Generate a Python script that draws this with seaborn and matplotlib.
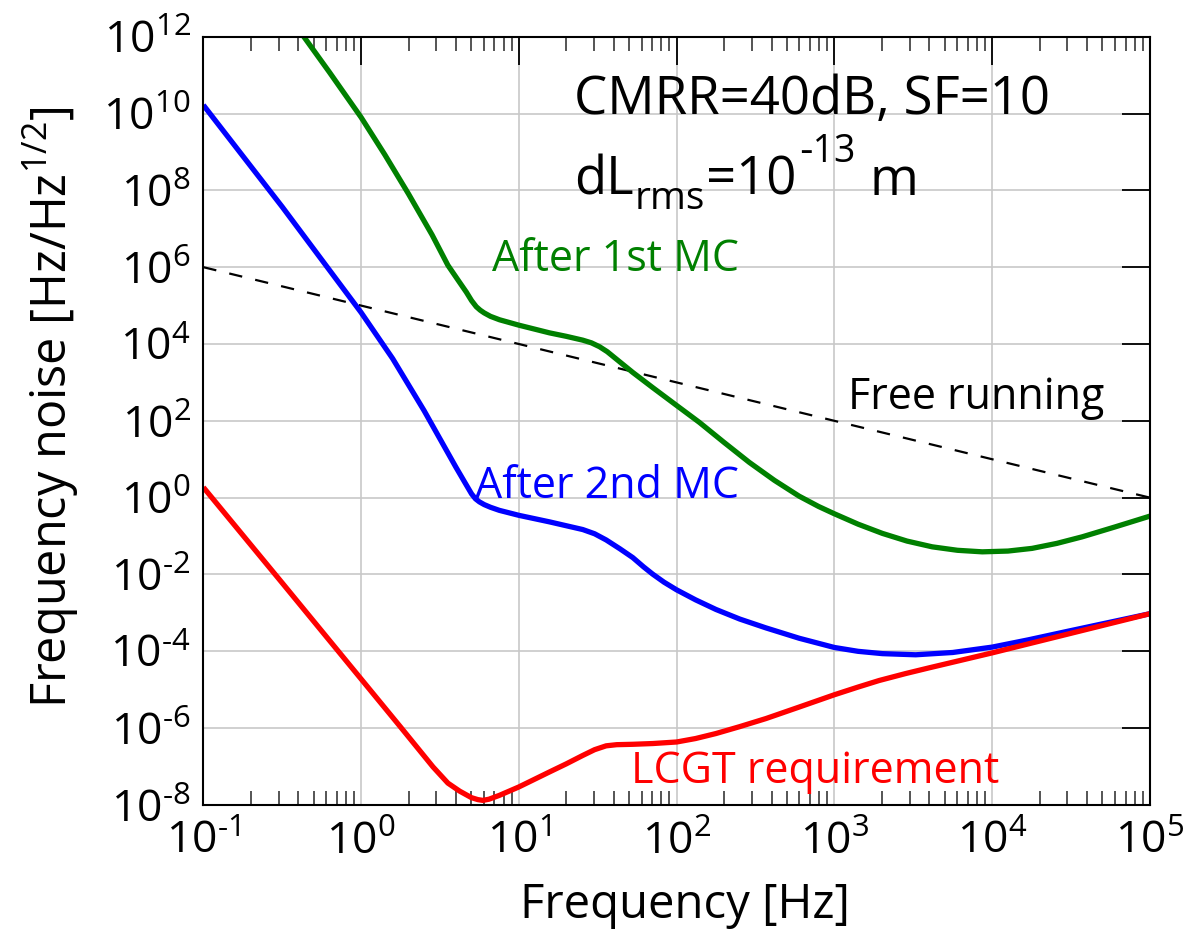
import numpy as np
import pandas as pd
import matplotlib
matplotlib.use("Agg")
import matplotlib.pyplot as plt
import matplotlib.ticker as mticker
import matplotlib.transforms as mtransforms
import seaborn as sns

# ---------------- data (log10 of frequency [Hz] and of noise [Hz/Hz^1/2]) ----------------
green_logf = [-0.40, -0.2, 0.0, 0.15, 0.3, 0.45, 0.55, 0.62, 0.667, 0.70, 0.73, 0.755,
              0.78, 0.82, 0.878, 1.0, 1.194, 1.30, 1.405, 1.46, 1.511, 1.56, 1.62, 1.68,
              1.722, 1.85, 2.0, 2.144, 2.3, 2.46, 2.62, 2.776, 2.9, 3.0, 3.15, 3.304, 3.46,
              3.62, 3.78, 3.937, 4.1, 4.253, 4.41, 4.57, 4.78, 5.0]
green_logN = [12.21, 11.07, 9.90, 8.93, 7.91, 6.84, 6.05, 5.63, 5.35, 5.13, 4.97, 4.88,
              4.81, 4.72, 4.63, 4.49, 4.29, 4.20, 4.10, 4.03, 3.93, 3.80, 3.60, 3.40,
              3.26, 2.86, 2.40, 1.96, 1.44, 0.92, 0.45, 0.04, -0.23, -0.42, -0.69, -0.93, -1.13,
              -1.28, -1.37, -1.41, -1.39, -1.32, -1.19, -1.02, -0.76, -0.48]

blue_logf = [-1.0, -0.5, 0.0, 0.2, 0.4, 0.6, 0.667, 0.70, 0.725, 0.75, 0.78, 0.82, 0.876,
             1.0, 1.194, 1.405, 1.48, 1.553, 1.64, 1.722, 1.79, 1.848, 1.92, 2.0, 2.12,
             2.249, 2.4, 2.566, 2.777, 3.0, 3.15, 3.304, 3.515, 3.75, 4.0, 4.23, 4.465, 5.0]
blue_logN = [10.22, 7.57, 4.82, 3.62, 2.26, 0.80, 0.33, 0.10, -0.03, -0.11, -0.18, -0.25, -0.33,
             -0.46, -0.63, -0.83, -0.94, -1.10, -1.33, -1.56, -1.80, -1.99, -2.20, -2.40, -2.66,
             -2.91, -3.16, -3.39, -3.66, -3.90, -4.00, -4.06, -4.09, -4.03, -3.89, -3.70, -3.49,
             -3.02]

red_logf = [-1.0, -0.5, 0.0, 0.25, 0.456, 0.55, 0.625, 0.70, 0.74, 0.772, 0.81, 0.876, 1.0,
            1.194, 1.3, 1.405, 1.48, 1.553, 1.62, 1.722, 1.85, 2.0, 2.12, 2.249, 2.4, 2.566,
            2.777, 3.0, 3.15, 3.283, 3.45, 3.6, 4.0, 4.5, 5.0]
red_logN = [0.27, -2.22, -4.72, -5.97, -7.01, -7.43, -7.64, -7.81, -7.86, -7.88, -7.85, -7.75,
            -7.53, -7.14, -6.93, -6.71, -6.56, -6.46, -6.43, -6.42, -6.40, -6.36, -6.27, -6.14,
            -5.96, -5.75, -5.45, -5.13, -4.93, -4.76, -4.58, -4.43, -4.04, -3.53, -3.02]

free_f = [0.1, 1e5]
free_N = [1e6, 1.0]

curve_names = ["After 1st MC", "After 2nd MC", "LCGT requirement"]
curve_colors = ["#008000", "#0000ff", "#ff0000"]

xtick_exp = [-1, 0, 1, 2, 3, 4, 5]
ytick_exp = [-8, -6, -4, -2, 0, 2, 4, 6, 8, 10, 12]

HY = "\u2010"  # short hyphen used in the exponents


def pow_label(e):
    s = str(e).replace("-", HY)
    return r"$10^{%s}$" % s


# ---------------- build table ----------------
frames = []
for name, lf, ln in zip(curve_names, [green_logf, blue_logf, red_logf],
                        [green_logN, blue_logN, red_logN]):
    frames.append(pd.DataFrame({"freq": np.power(10.0, lf),
                                "noise": np.power(10.0, ln),
                                "curve": name}))
df = pd.concat(frames, ignore_index=True)
free_df = pd.DataFrame({"freq": free_f, "noise": free_N})

# ---------------- style ----------------
sns.set_theme(style="white")
plt.rcParams["font.family"] = ["Open Sans", "DejaVu Sans"]
plt.rcParams["mathtext.fontset"] = "custom"
plt.rcParams["mathtext.rm"] = "Open Sans"
plt.rcParams["mathtext.default"] = "regular"

fig = plt.figure(figsize=(11.87, 9.38), dpi=100)
ax = fig.add_axes([0.1713, 0.1418, 0.9688 - 0.1713, 0.9609 - 0.1418])
ax.set_xscale("log")
ax.set_yscale("log")

sns.lineplot(data=free_df, x="freq", y="noise", ax=ax, color="black", lw=1.6,
             sort=False, estimator=None, legend=False)
ax.lines[-1].set_dashes((6, 6))
sns.lineplot(data=df, x="freq", y="noise", hue="curve", hue_order=curve_names,
             palette=curve_colors, ax=ax, lw=3.8, sort=False, estimator=None,
             legend=False)
for ln in ax.lines[1:]:
    ln.set_solid_joinstyle("round")
    ln.set_solid_capstyle("butt")

ax.set_xlim(1e-1, 1e5)
ax.set_ylim(1e-8, 1e12)

ax.xaxis.set_major_locator(mticker.FixedLocator([10.0 ** e for e in xtick_exp]))
ax.xaxis.set_major_formatter(mticker.FixedFormatter([pow_label(e) for e in xtick_exp]))
ax.xaxis.set_minor_locator(mticker.LogLocator(base=10, subs=np.arange(2, 10), numticks=50))
ax.xaxis.set_minor_formatter(mticker.NullFormatter())
ax.yaxis.set_major_locator(mticker.FixedLocator([10.0 ** e for e in ytick_exp]))
ax.yaxis.set_major_formatter(mticker.FixedFormatter([pow_label(e) for e in ytick_exp]))
ax.yaxis.set_minor_locator(mticker.NullLocator())

ax.grid(True, which="major", color="#c8c8c8", lw=1.2)
ax.set_axisbelow(True)
ax.tick_params(axis="both", which="major", direction="in", length=20, width=1.3,
               top=True, right=True, labelsize=32, colors="black", pad=9)
ax.tick_params(axis="x", which="minor", direction="in", length=10, width=1.1,
               top=True, bottom=True)
ax.tick_params(axis="x", which="major", pad=11)
for s in ax.spines.values():
    s.set_color("black")
    s.set_linewidth(1.5)

ax.set_xlabel("")
ax.set_ylabel("")
fig.text(685 / 1187, 1 - 918 / 938, "Frequency [Hz]", fontsize=34, ha="center",
         va="baseline", color="black")
fig.text(67 / 1187, 1 - 407 / 938, r"Frequency noise [Hz/Hz$^{1/2}$]", fontsize=35,
         rotation=90, rotation_mode="anchor", ha="center", va="baseline", color="black")

# annotations
ax.text(22.5, 1.0e10, "CMRR=40dB, SF=10", fontsize=38, color="black", va="baseline")
ax.text(6.8, 7.9e5, "After 1st MC", fontsize=31, color=curve_colors[0], va="baseline")
ax.text(5.3, 0.97, "After 2nd MC", fontsize=31, color=curve_colors[1], va="baseline")
ax.text(1220, 200, "Free running", fontsize=31, color="black", va="baseline")
ax.text(51.6, 3.7e-8, "LCGT requirement", fontsize=31, color=curve_colors[2], va="baseline")

# "dL_rms = 10^-13 m" composed piece by piece (subscript / superscript offsets in pixels)
fig.canvas.draw()
renderer = fig.canvas.get_renderer()
x0, y0 = ax.transData.transform((22.5, 7.6e7))
pieces = [("dL", 38, 0, 1), ("rms", 28, -14, 1), ("=10", 38, 0, 2),
          (HY + "13", 27, 33, 14), ("m", 38, 0, 0)]
xcur = x0
for txt, fs, dy, gap in pieces:
    t = fig.text(xcur, y0 + dy, txt, fontsize=fs, color="black", va="baseline",
                 ha="left", transform=mtransforms.IdentityTransform())
    xcur = t.get_window_extent(renderer).x1 + gap

fig.savefig("out.png", dpi=100)
